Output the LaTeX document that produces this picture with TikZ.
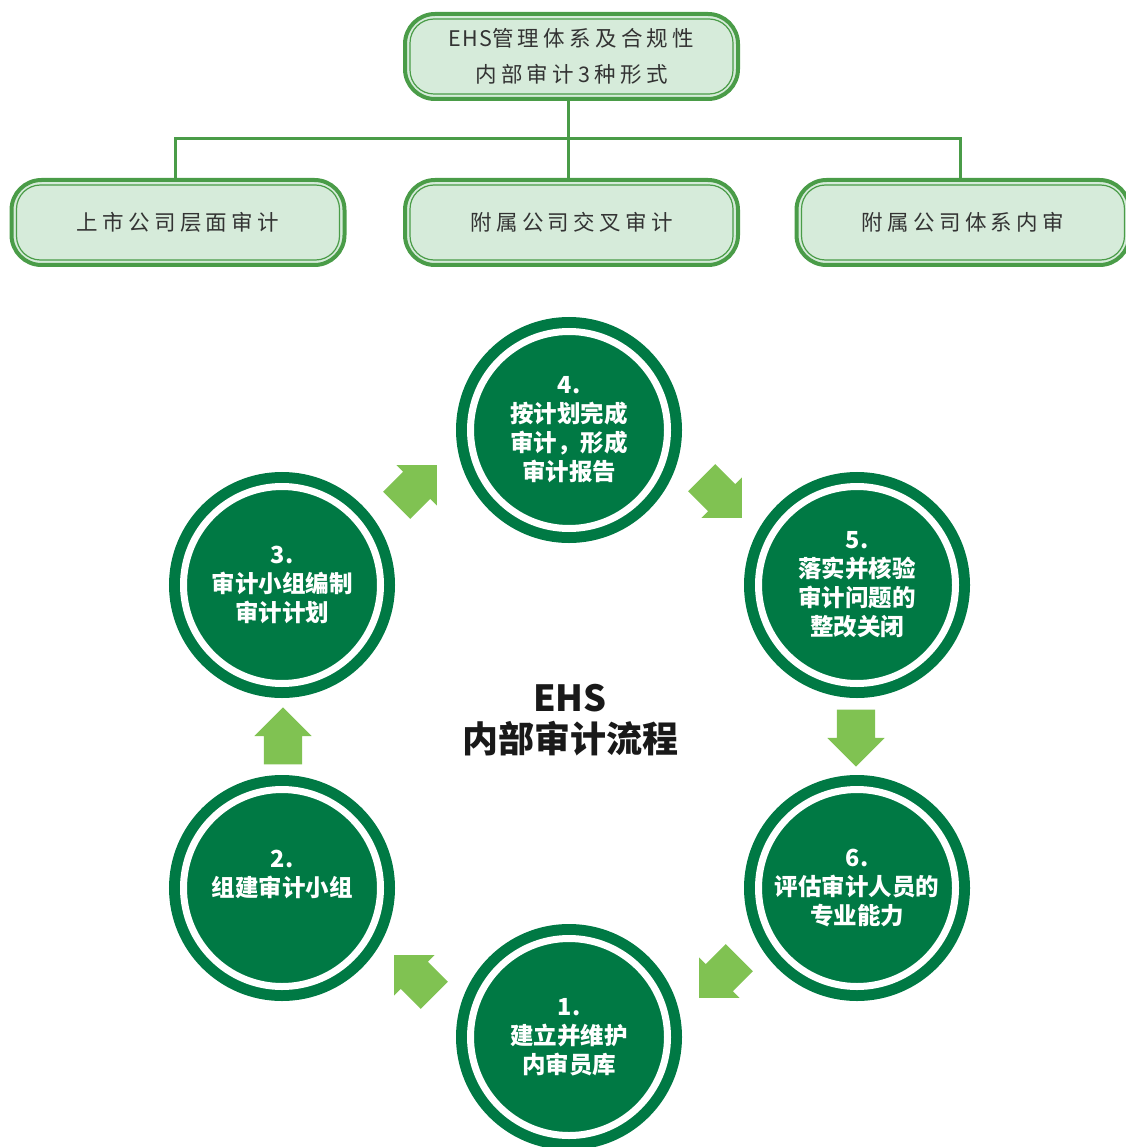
\documentclass[tikz,border=0pt]{standalone}
\usepackage{fontspec}
\setmainfont{Noto Sans CJK SC}
\newfontfamily\boxfont[LetterSpace=20]{Noto Sans CJK SC}
\newfontfamily\boxlatin[LetterSpace=5]{Noto Sans CJK SC}
\usetikzlibrary{shapes.arrows}
\definecolor{ehsgreen}{RGB}{0,121,68}
\definecolor{stepgreen}{RGB}{128,194,82}
\definecolor{formfill}{RGB}{214,235,218}
\definecolor{formline}{RGB}{74,156,72}
\definecolor{formtext}{RGB}{51,51,51}
\tikzset{
	x=1pt, y=-1pt,
	form/.style={
		draw=formline, line width=4pt,
		fill=formfill,
		rounded corners=30pt,
		minimum width=333pt, minimum height=85pt,
		text=formtext, align=center,
		font=\boxfont\fontsize{21.5}{36}\selectfont},
	forminner/.style={draw=formline, line width=1.2pt, rounded corners=24pt},
	stage/.style={
		circle, minimum size=197pt,
		fill=ehsgreen, draw=ehsgreen,
		line width=11pt, double=white, double distance=7pt,
		text=white, align=center,
		font=\bfseries\fontsize{23.5}{29}\selectfont},
	turn/.style={
		single arrow, fill=stepgreen, draw=none,
		minimum height=57pt,
		inner xsep=0pt, inner ysep=19pt,
		single arrow head extend=9.5pt,
		single arrow tip angle=90},
	tree/.style={draw=formline, line width=3pt},
	title/.style={align=center, text=black!90,
		font=\bfseries\fontsize{36}{41}\selectfont}
}
\begin{document}
\begin{tikzpicture}
\useasboundingbox (0,0) rectangle (1125,1147);
% forms of internal audit
\node[form] (top) at (571.5,56.5) {{\boxlatin EHS}管理体系及合规性\\内部审计3种形式};
\node[form] (listed) at (178,222.5) {上市公司层面审计};
\node[form] (cross) at (571.5,222.5) {附属公司交叉审计};
\node[form] (own) at (963,222.5) {附属公司体系内审};
\foreach \n in {top,listed,cross,own}
	\draw[forminner] ([shift={(7,7)}]\n.north west) rectangle ([shift={(-7,-7)}]\n.south east);
\coordinate (fork) at (top.south |- 0,139);
\draw[tree] ([xshift=-3pt]top.south) -- ([xshift=-3pt]cross.north);
\draw[tree] ([xshift=-3pt]listed.north) |- (fork) -| ([xshift=-3pt]own.north);
% audit cycle
\node[stage] (s1) at (569,1037) {1.\\建立并维护\\内审员库};
\node[stage] (s2) at (282,888) {2.\\组建审计小组\\\mbox{}};
\node[stage] (s3) at (282,585) {3.\\审计小组编制\\审计计划};
\node[stage] (s4) at (569,430) {4.\\按计划完成\\审计，形成\\审计报告};
\node[stage] (s5) at (857,585) {5.\\落实并核验\\审计问题的\\整改关闭};
\node[stage] (s6) at (857,888) {6.\\评估审计人员的\\专业能力};
\node[turn, rotate=135] (a12) at (421,982) {};
\node[turn, rotate=90] (a23) at (283,745.5) {};
\node[turn, rotate=45] (a34) at (410,492) {};
\node[turn, rotate=-45] (a45) at (715,491) {};
\node[turn, rotate=-90] (a56) at (856,728.5) {};
\node[turn, rotate=-135] (a61) at (726,971) {};
\node[title] (flow) at (570,720) {EHS\\内部审计流程};
\end{tikzpicture}
\end{document}
